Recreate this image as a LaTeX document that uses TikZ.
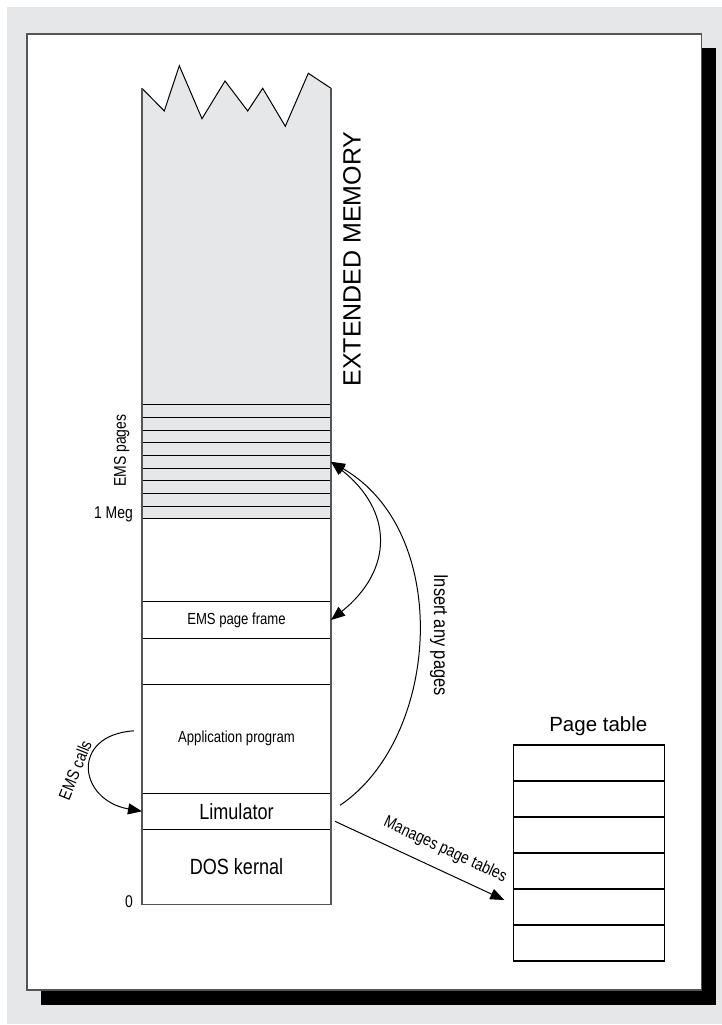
\documentclass[tikz,border=0pt]{standalone}
\usepackage{fontspec}
\setmainfont{Liberation Sans}
\newfontfamily\narrowfont[FakeStretch=0.82]{Liberation Sans}
\usetikzlibrary{arrows.meta,calc}
\definecolor{memgray}{RGB}{230,231,232}
\definecolor{edgegray}{RGB}{85,85,85}
\tikzset{
  mem slot/.style={
    draw=black, line width=1pt, inner sep=0pt, outer sep=0pt,
    minimum width=189pt, font=\narrowfont\fontsize{16}{18}\selectfont
  },
  ems strip/.style={
    mem slot, fill=memgray, minimum height=12.67pt
  },
  table row/.style={
    draw=black, line width=1.2pt, inner sep=0pt, outer sep=0pt,
    minimum width=151pt, minimum height=36pt
  },
  big text/.style={font=\narrowfont\fontsize{22}{24}\selectfont},
  side label/.style={font=\narrowfont\fontsize{17}{19}\selectfont, inner sep=0pt},
  flow/.style={line width=1pt, -{Triangle[length=14pt, width=11pt]}},
  flow both/.style={line width=1pt,
    {Triangle[length=14pt, width=11pt]}-{Triangle[length=14pt, width=11pt]}}
}

\begin{document}
\begin{tikzpicture}[x=1pt, y=-1pt]
  \useasboundingbox (0,0) rectangle (722,1025);

  % backdrop, sheet and its shadow
  \fill[memgray] (7,7) rectangle (722,1024);
  \fill[black] (701.7,47.7) rectangle (716,1005);
  \fill[black] (41,990) rectangle (716,1005);
  \draw[edgegray, fill=white, line width=1.3pt] (27,34) rectangle (701.7,990);

  % extended memory, torn at the top
  \fill[memgray] (142,518.7) -- (142,88.3) -- (164.3,111) -- (179.3,65.7)
    -- (202,118.7) -- (225,81) -- (247.7,111) -- (262.7,88.3) -- (285.3,126.3)
    -- (308.3,73.3) -- (331,88.3) -- (331,518.7) -- cycle;
  \draw[line width=1pt] (142,88.3) -- (164.3,111) -- (179.3,65.7)
    -- (202,118.7) -- (225,81) -- (247.7,111) -- (262.7,88.3) -- (285.3,126.3)
    -- (308.3,73.3) -- (331,88.3);
  \node[font=\fontsize{25}{27}\selectfont, rotate=90] (extlab) at (352,259) {EXTENDED MEMORY};

  % EMS pages
  \foreach \i in {1,...,9}
    \node[ems strip] (ems\i) at (236.5, {398.4+12.67*\i}) {};
  \node[side label, rotate=90] (emslab) at (121.7,450.7) {EMS pages};
  \node[side label, anchor=east] (meg) at (133,514) {1 Meg};

  % conventional memory
  \node[mem slot, minimum height=36.6pt] (frame) at (236.5,620) {EMS page frame};
  \node[mem slot, minimum height=109pt] (app) at (236.5,738.8) {Application program};
  \node[mem slot, minimum height=36pt, big text] (lim) at (236.5,811.3) {Limulator};
  \node[mem slot, minimum height=75pt, big text] (dos) at (236.5,866.8) {DOS kernal};
  \node[side label, anchor=east] (zero) at (133,902) {0};
  \draw[edgegray, line width=1.3pt] (142,88.3) -- (142,904.3) -- (331,904.3) -- (331,88.3);

  % page table
  \foreach \i in {1,...,6}
    \node[table row] (pt\i) at (588.8, {727+36*\i}) {};
  \node[font=\fontsize{20.5}{22}\selectfont] (ptlab) at (598.3,726) {Page table};

  % mapping arrows
  \coordinate (ins0) at ($(lim.east)+(9,-6)$);
  \draw[flow] (ins0) .. controls (440,738) and (453,532) .. (ems5.east);
  \draw[flow both] (ems5.east) .. controls (393.5,511) and (393.5,570) .. (frame.east);
  \node[side label, font=\narrowfont\fontsize{20}{22}\selectfont, rotate=-90] (inslab) at (439,635) {Insert any pages};

  \coordinate (calls0) at ($(app.west)+(-8,-8)$);
  \draw[flow] (calls0) .. controls (70,735) and (78,800) .. (lim.west);
  \node[side label, rotate=68] (callslab) at (75,770) {EMS calls};

  \coordinate (mng0) at ($(lim.east)+(4,10)$);
  \coordinate (mng1) at ($(pt5.west)+(-9,-7)$);
  \draw[flow] (mng0) -- (mng1)
    node[side label, pos=0.6, sloped, above=12pt] (mnglab) {Manages page tables};
\end{tikzpicture}
\end{document}
